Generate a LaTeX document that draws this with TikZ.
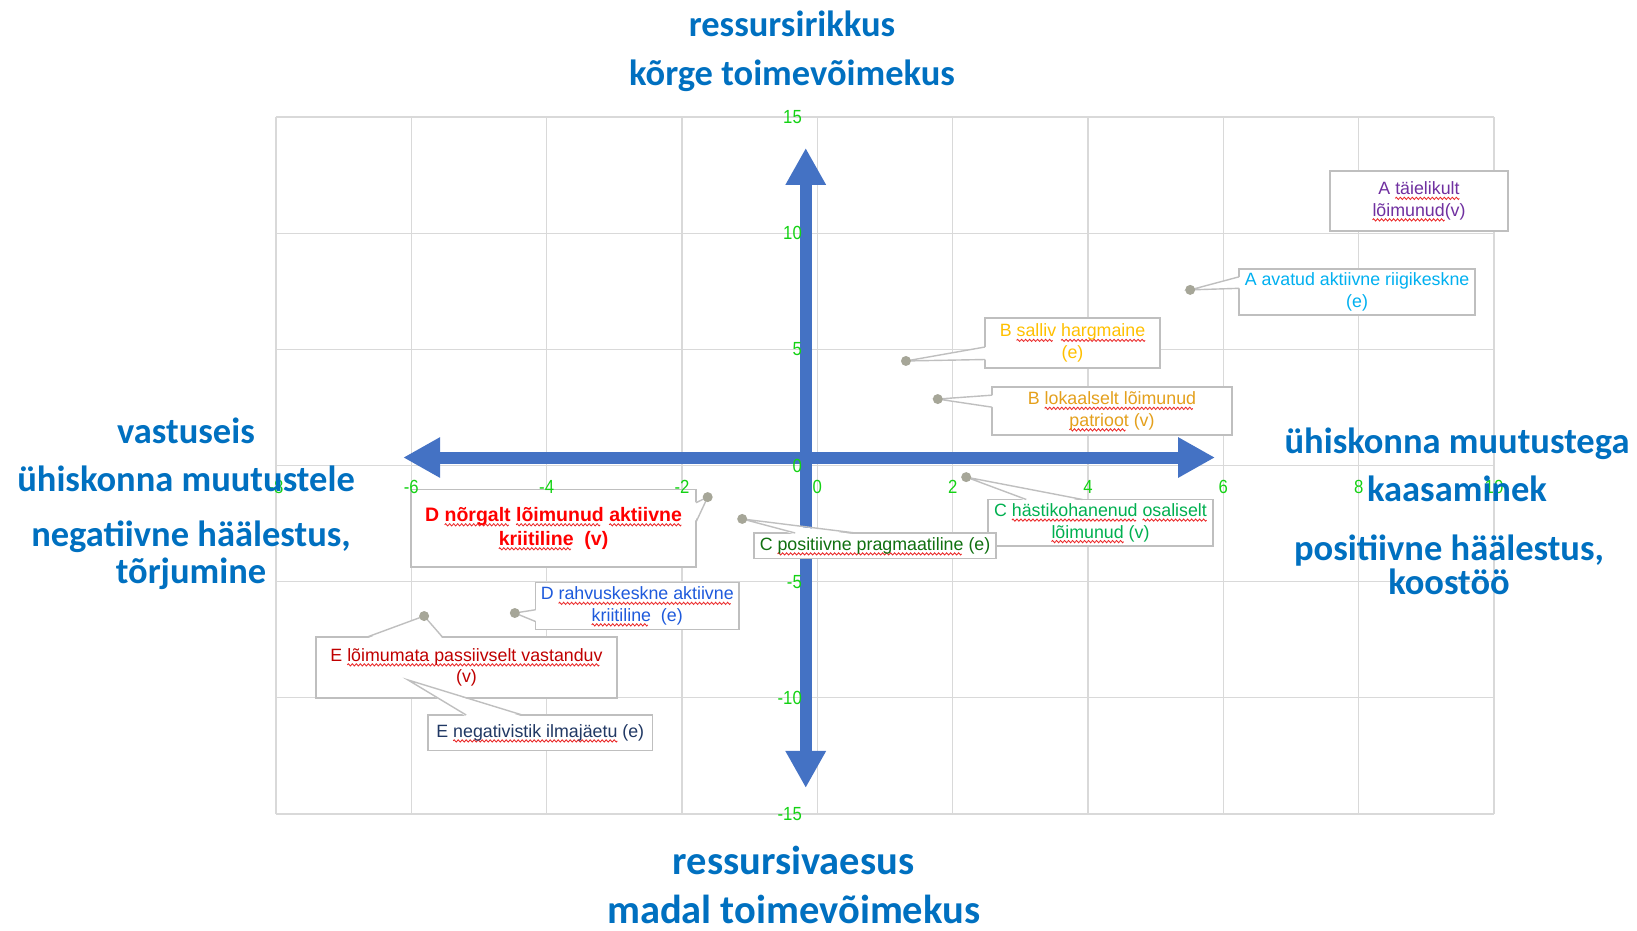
\documentclass[tikz,border=0pt]{standalone}
\usepackage{fontspec}
\usetikzlibrary{arrows.meta,calc}

\newfontfamily\headfont{Carlito}
\newfontfamily\labelfont{Liberation Sans}
\newfontfamily\tickfont[FakeStretch=0.88]{Liberation Sans}

\definecolor{headblue}{RGB}{0,112,192}
\definecolor{axisblue}{RGB}{68,114,196}
\definecolor{gridgray}{RGB}{217,217,217}
\definecolor{boxgray}{RGB}{191,191,191}
\definecolor{dotgray}{RGB}{166,166,152}
\definecolor{tickgreen}{RGB}{20,210,20}
\definecolor{spellred}{RGB}{235,40,40}
\definecolor{atlcol}{RGB}{112,48,160}
\definecolor{aavcol}{RGB}{0,176,240}
\definecolor{bsalcol}{RGB}{255,192,0}
\definecolor{blokcol}{RGB}{228,160,28}
\definecolor{chascol}{RGB}{0,176,80}
\definecolor{cposcol}{RGB}{16,112,16}
\definecolor{dnorcol}{RGB}{255,0,0}
\definecolor{drahcol}{RGB}{30,90,220}
\definecolor{eloicol}{RGB}{192,0,0}
\definecolor{enegcol}{RGB}{32,56,100}

% wavy red underline, one period kept in a box
\newsavebox{\wavebox}
\newsavebox{\spellbox}
\AtBeginDocument{\sbox{\wavebox}{\pgfpicture
	\pgfsetbaseline{0pt}
	\pgfsetlinewidth{0.85pt}\pgfsetstrokecolor{spellred}
	\pgfpathmoveto{\pgfpointorigin}
	\pgfpathsine{\pgfpoint{1pt}{1.1pt}}\pgfpathcosine{\pgfpoint{1pt}{-1.1pt}}
	\pgfpathsine{\pgfpoint{1pt}{-1.1pt}}\pgfpathcosine{\pgfpoint{1pt}{1.1pt}}
	\pgfusepath{stroke}
	\pgfresetboundingbox
	\pgfpathrectangle{\pgfpoint{0pt}{-1pt}}{\pgfpoint{4pt}{2pt}}\pgfusepath{use as bounding box}
	\endpgfpicture}}
\newcommand{\spell}[1]{\sbox{\spellbox}{#1}\leavevmode\rlap{\raisebox{-3.5pt}[0pt][0pt]{\hbox to \wd\spellbox{\leaders\copy\wavebox\hfill}}}\usebox{\spellbox}}

% wedge from a box edge to a data point
\newcommand{\pointer}[5]{%
	\fill[white] ($(#1.#3)!.17!(#1.#4)+(#5)$) -- (#2.center) -- ($(#1.#3)!.42!(#1.#4)+(#5)$) -- cycle;
	\draw[lead] ($(#1.#3)!.17!(#1.#4)$) -- (#2.center) -- ($(#1.#3)!.42!(#1.#4)$);}

\tikzset{%
	chartgrid/.style = {gridgray, line width=1.3pt},
	axisarrow/.style = {axisblue, line width=12pt, {Triangle[length=37pt,width=38pt]}-{Triangle[length=37pt,width=38pt]}},
	labelbox/.style  = {draw=boxgray, fill=white, line width=1.4pt, inner sep=0pt, outer sep=0pt, align=center, font=\labelfont\fontsize{17.8}{21.5}\selectfont},
	lead/.style      = {boxgray, line width=1.4pt},
	ticklabel/.style = {tickgreen, inner sep=0pt, font=\tickfont\fontsize{19}{20}\selectfont},
	bigtext/.style   = {headblue, anchor=base, inner sep=0pt, font=\headfont\bfseries\fontsize{36.5}{44}\selectfont},
}

\begin{document}
\begin{tikzpicture}[x=67.67pt,y=23.23pt]
	\useasboundingbox (-12.078,-19.996) rectangle (12.113,20.039);
	
	\draw[chartgrid] (-8,-15) grid[xstep=2,ystep=5] (10,15);
	
	\draw[axisarrow] (-0.171,-13.88) -- (-0.171,13.67);
	\draw[axisarrow] (-6.12,0.344) -- (5.877,0.344);
	
	\coordinate (aavpt) at (5.51,7.56);
	\coordinate (bsalpt) at (1.31,4.50);
	\coordinate (blokpt) at (1.78,2.86);
	\coordinate (chaspt) at (2.20,-0.50);
	\coordinate (cpospt) at (-1.11,-2.30);
	\coordinate (dnorpt) at (-1.62,-1.36);
	\coordinate (drahpt) at (-4.47,-6.35);
	\coordinate (eloipt) at (-5.81,-6.48);
	\coordinate (enegpt) at (-6.05,-9.23);
	
	\node[labelbox,minimum width=178pt,minimum height=60pt,text=atlcol] (atl) at (8.892,11.386) {A \spell{täielikult}\\\spell{lõimunud}(v)};
	
	\node[labelbox,minimum width=236pt,minimum height=46pt,text=aavcol] (aav) at (7.976,7.469) {A avatud aktiivne riigikeskne\\(e)};
	\pointer{aav}{aavpt}{north west}{south west}{1.5pt,0}
	
	\node[labelbox,minimum width=175pt,minimum height=50pt,text=bsalcol] (bsal) at (3.771,5.273) {B \spell{salliv} \spell{hargmaine}\\(e)};
	\pointer{bsal}{bsalpt}{south west}{north west}{1.5pt,0}
	
	\node[labelbox,minimum width=240pt,minimum height=48pt,text=blokcol] (blok) at (4.355,2.346) {B \spell{lokaalselt lõimunud}\\\spell{patrioot} (v)};
	\pointer{blok}{blokpt}{north west}{south west}{1.5pt,0}
	
	\node[labelbox,minimum width=225pt,minimum height=46.5pt,text=chascol] (chas) at (4.185,-2.464) {C \spell{hästikohanenud} \spell{osaliselt}\\\spell{lõimunud} (v)};
	\pointer{chas}{chaspt}{north west}{north east}{0,-1.5pt}
	
	\node[labelbox,minimum width=242pt,minimum height=25.5pt,text=cposcol] (cpos) at (0.853,-3.455) {C \spell{positiivne pragmaatiline} (e)};
	\pointer{cpos}{cpospt}{north west}{north east}{0,-1.5pt}
	
	\node[labelbox,minimum width=285pt,minimum height=77.5pt,text=dnorcol,font=\labelfont\bfseries\fontsize{19.5}{24}\selectfont] (dnor) at (-3.898,-2.701) {D \spell{nõrgalt} \spell{lõimunud} \spell{aktiivne}\\\spell{kriitiline}\ \ (v)};
	\pointer{dnor}{dnorpt}{north east}{south east}{-1.5pt,0}
	
	\node[labelbox,minimum width=203.5pt,minimum height=47pt,text=drahcol] (drah) at (-2.661,-6.048) {D \spell{rahvuskeskne aktiivne}\\\spell{kriitiline}\ \ (e)};
	\pointer{drah}{drahpt}{south west}{north west}{1.5pt,0}
	
	\node[labelbox,minimum width=301pt,minimum height=61pt,text=eloicol] (eloi) at (-5.184,-8.696) {E \spell{lõimumata passiivselt vastanduv}\\(v)};
	\pointer{eloi}{eloipt}{north west}{north east}{0,-1.5pt}
	
	\node[labelbox,minimum width=224.5pt,minimum height=35.6pt,text=enegcol] (eneg) at (-4.094,-11.507) {E \spell{negativistik ilmajäetu} (e)};
	\pointer{eneg}{enegpt}{north west}{north east}{0,-1.5pt}
	
	\foreach \p in {aavpt,bsalpt,blokpt,chaspt,cpospt,dnorpt,drahpt,eloipt} \fill[dotgray] (\p) circle (5pt);
	
	\foreach \x [count=\i] in {-8,-6,...,10} \node[ticklabel] (xt\i) at (\x,-0.93) {\x};
	\foreach \y [count=\i] in {-15,-10,...,15} \node[ticklabel,anchor=east] (yt\i) at (-0.226,\y) {\y};
	
	\node[bigtext] (topa) at (-0.374,18.45) {ressursirikkus};
	\node[bigtext] (topb) at (-0.374,16.37) {kõrge toimevõimekus};
	\node[bigtext,font=\headfont\bfseries\fontsize{40.5}{48}\selectfont] (bota) at (-0.35,-17.6) {ressursivaesus};
	\node[bigtext,font=\headfont\bfseries\fontsize{40.5}{48}\selectfont] (botb) at (-0.35,-19.7) {madal toimevõimekus};
	
	\node[bigtext] (lefta) at (-9.329,0.926) {vastuseis};
	\node[bigtext] (leftb) at (-9.329,-1.12) {ühiskonna muutustele};
	\node[bigtext] (leftc) at (-9.255,-3.5) {negatiivne häälestus,};
	\node[bigtext] (leftd) at (-9.255,-5.08) {tõrjumine};
	
	\node[bigtext] (righta) at (9.453,0.538) {ühiskonna muutustega};
	\node[bigtext] (rightb) at (9.453,-1.528) {kaasaminek};
	\node[bigtext] (rightc) at (9.335,-4.068) {positiivne häälestus,};
	\node[bigtext] (rightd) at (9.335,-5.532) {koostöö};
\end{tikzpicture}
\end{document}
